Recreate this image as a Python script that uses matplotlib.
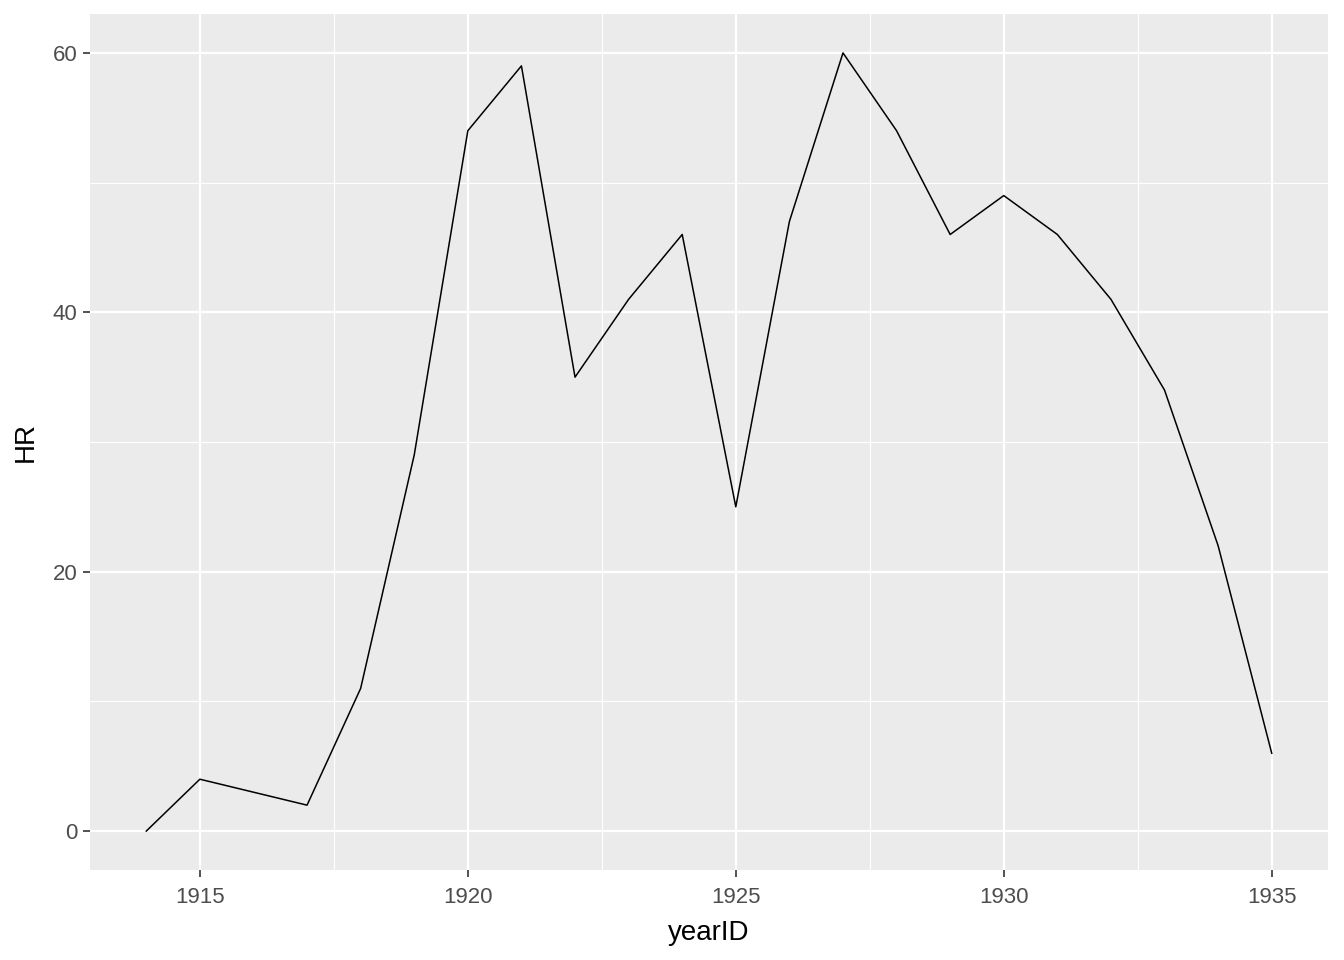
import numpy as np
import matplotlib
matplotlib.use("Agg")
import matplotlib.pyplot as plt
from matplotlib.ticker import MultipleLocator

# home runs per season
year_id = [1914, 1915, 1916, 1917, 1918, 1919, 1920, 1921, 1922, 1923, 1924,
           1925, 1926, 1927, 1928, 1929, 1930, 1931, 1932, 1933, 1934, 1935]
hr = [0, 4, 3, 2, 11, 29, 54, 59, 35, 41, 46,
      25, 47, 60, 54, 46, 49, 46, 41, 34, 22, 6]

plt.rcParams['font.family'] = ['Liberation Sans', 'DejaVu Sans']

fig = plt.figure(figsize=(13.44, 9.6), dpi=100)
ax = fig.add_axes([90 / 1344, 90 / 960, 1238 / 1344, 856 / 960])
ax.set_facecolor("#EBEBEB")

ax.plot(year_id, hr, color="black", linewidth=1.1, zorder=3)

xr = max(year_id) - min(year_id)
ax.set_xlim(min(year_id) - 0.05 * xr, max(year_id) + 0.05 * xr)
ax.set_ylim(-3, 63)

ax.xaxis.set_major_locator(MultipleLocator(5))
ax.xaxis.set_minor_locator(MultipleLocator(2.5))
ax.yaxis.set_major_locator(MultipleLocator(20))
ax.yaxis.set_minor_locator(MultipleLocator(10))

ax.grid(which="major", color="white", linewidth=1.6, zorder=0)
ax.grid(which="minor", color="white", linewidth=0.8, zorder=0)
ax.set_axisbelow(True)

for s in ax.spines.values():
    s.set_visible(False)

ax.tick_params(which="major", length=5, width=1.2, color="#333333",
               labelsize=16, labelcolor="#4D4D4D", pad=4)
ax.tick_params(axis="x", which="major", pad=7)
ax.tick_params(which="minor", length=0)

ax.set_xlabel("yearID", fontsize=20, color="black", labelpad=9)
ax.set_ylabel("HR", fontsize=20, color="black", labelpad=10)

fig.savefig("out.png", dpi=100)
